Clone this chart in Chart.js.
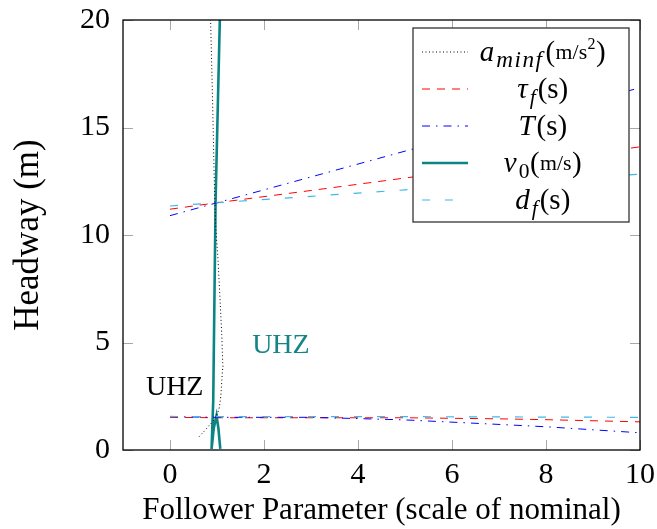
<!DOCTYPE html>
<html>
<head>
<meta charset="utf-8">
<script src="https://cdn.jsdelivr.net/npm/chart.js@4/dist/chart.umd.min.js"></script>
<style>
  html, body { margin: 0; padding: 0; background: #fff; }
  canvas { display: block; }
</style>
</head>
<body>
<canvas id="c" width="657" height="529"></canvas>
<script>
// Tick positions on both axes
const xTickValues = [0, 2, 4, 6, 8, 10];
const yTickValues = [0, 5, 10, 15, 20];

// Minimum follower deceleration sweep: parameter scale vs. headway
const aminfScale   = [0.62, 0.81, 0.99, 1.05, 1.08, 1.13, 1.10, 1.03, 0.955, 0.906, 0.864];
const aminfHeadway = [0.62, 1.08, 1.62, 2.0, 2.5, 3.87, 5.4, 8.5, 11.5, 16.2, 20];

// Desired speed sweep
const v0Scale   = [1.06, 0.97, 0.92, 0.885, 0.93, 0.99, 1.03, 1.07];
const v0Headway = [20, 11.6, 2.3, 0.05, 1.0, 1.6, 1.0, 0.05];

// Reaction time, time gap and follower delay sweeps (upper and lower branches)
const sweepScale = [0, 1, 3, 5, 7, 8, 10];
const tauUpper = [11.2, 11.5, 12.07, 12.65, 13.23, 13.52, 14.1];
const tauLower = [1.52, 1.5, 1.5, 1.5, 1.45, 1.41, 1.31];
const TUpper   = [10.9, 11.5, 12.7, 13.9, 15.1, 15.67, 16.85];
const TLower   = [1.55, 1.52, 1.52, 1.40, 1.19, 1.08, 0.80];
const dfUpper  = [11.35, 11.5, 11.8, 12.1, 12.4, 12.55, 12.83];
const dfLower  = [1.56, 1.55, 1.55, 1.55, 1.54, 1.53, 1.52];

// Annotation labels placed in data coordinates (baseline centre)
const zoneLabels = [
  { text: 'UHZ', x: 0.1,  y: 2.55, color: '#000000' },
  { text: 'UHZ', x: 2.36, y: 4.5,  color: '#138585' }
];

const FONT = '"Liberation Serif", "DejaVu Serif", serif';

const pts = (xs, ys) => xs.map((v, i) => ({ x: v, y: ys[i] }));

const styles = {
  aminf: { borderColor: '#000000', borderWidth: 1, borderDash: [1, 2.5] },
  tau:   { borderColor: '#ff0000', borderWidth: 1, borderDash: [8, 7] },
  T:     { borderColor: '#0000ff', borderWidth: 1, borderDash: [8, 6, 1.5, 6] },
  v0:    { borderColor: '#0b8484', borderWidth: 2.6, borderDash: [] },
  df:    { borderColor: '#3fb8e6', borderWidth: 1.2, borderDash: [8, 15] }
};

const mk = (data, st) => Object.assign({
  data, showLine: true, pointRadius: 0, fill: false, tension: 0
}, st);

const datasets = [
  mk(pts(sweepScale, dfUpper), styles.df),
  mk(pts(sweepScale, dfLower), styles.df),
  mk(pts(sweepScale, TUpper), styles.T),
  mk(pts(sweepScale, TLower), styles.T),
  mk(pts(sweepScale, tauUpper), styles.tau),
  mk(pts(sweepScale, tauLower), styles.tau),
  mk(pts(aminfScale, aminfHeadway), Object.assign({ cubicInterpolationMode: 'monotone' }, styles.aminf)),
  mk(pts(v0Scale, v0Headway), styles.v0)
];

// Legend rows: line style key and rich label segments
const legendRows = [
  { style: 'aminf', parts: [
    { t: 'a', it: true }, { t: 'minf', it: true, sub: true, scale: 0.8, spacing: 1.5 },
    { t: '(' }, { t: 'm/s', small: true }, { t: '2', sup: true }, { t: ')' } ] },
  { style: 'tau', parts: [ { t: 'τ', it: true }, { t: 'f', it: true, sub: true }, { t: '(s)' } ] },
  { style: 'T', parts: [ { t: 'T', it: true }, { t: '(s)' } ] },
  { style: 'v0', parts: [
    { t: 'v', it: true }, { t: '0', sub: true }, { t: '(' }, { t: 'm/s', small: true }, { t: ')' } ] },
  { style: 'df', parts: [ { t: 'd', it: true }, { t: 'f', it: true, sub: true }, { t: '(s)' } ] }
];

function partFont(p, size) {
  let s = size;
  if (p.sub) s = size * (p.scale || 0.74);
  if (p.sup) s = size * 0.55;
  if (p.small) s = size * 0.75;
  return (p.it ? 'italic ' : '') + s.toFixed(1) + 'px ' + FONT;
}
function partDy(p, size) {
  if (p.sub) return size * 0.2;
  if (p.sup) return -size * 0.42;
  if (p.small) return -size * 0.08;
  return 0;
}
function partGap(p) {
  if (p.it) return 2;
  return 0.5;
}
function partWidth(ctx, p) {
  return ctx.measureText(p.t).width + (p.spacing || 0) * p.t.length;
}

const framePlugin = {
  id: 'frame',
  afterDatasetsDraw(chart) {
    const { ctx, chartArea: a, scales: { x, y } } = chart;
    ctx.save();

    // inward tick marks on all four sides
    const L = 10;
    ctx.strokeStyle = '#a8a8a8';
    ctx.lineWidth = 1;
    ctx.beginPath();
    xTickValues.forEach(v => {
      const px = Math.round(x.getPixelForValue(v)) + 0.5;
      ctx.moveTo(px, a.bottom); ctx.lineTo(px, a.bottom - L);
      ctx.moveTo(px, a.top); ctx.lineTo(px, a.top + L);
    });
    yTickValues.forEach(v => {
      const py = Math.round(y.getPixelForValue(v)) + 0.5;
      ctx.moveTo(a.left, py); ctx.lineTo(a.left + L, py);
      ctx.moveTo(a.right, py); ctx.lineTo(a.right - L, py);
    });
    ctx.stroke();

    // axis box
    ctx.strokeStyle = '#000';
    ctx.lineWidth = 1.3;
    ctx.strokeRect(a.left, a.top, a.right - a.left, a.bottom - a.top);

    // zone labels
    ctx.font = '28px ' + FONT;
    ctx.textAlign = 'center';
    ctx.textBaseline = 'alphabetic';
    zoneLabels.forEach(z => {
      ctx.fillStyle = z.color;
      ctx.fillText(z.text, x.getPixelForValue(z.x), y.getPixelForValue(z.y));
    });

    // legend box
    const bw = 216, bh = 194;
    const bx = a.right - 11 - bw, by = a.top + 8;
    ctx.fillStyle = '#fff';
    ctx.fillRect(bx, by, bw, bh);
    ctx.strokeStyle = '#333';
    ctx.lineWidth = 1.3;
    ctx.strokeRect(bx, by, bw, bh);

    const size = 29;
    legendRows.forEach((row, i) => {
      const cy = by + 24 + i * 37;
      const st = styles[row.style];
      ctx.beginPath();
      ctx.setLineDash(st.borderDash);
      ctx.strokeStyle = st.borderColor;
      ctx.lineWidth = st.borderWidth;
      ctx.moveTo(bx + 9, cy); ctx.lineTo(bx + 55, cy);
      ctx.stroke();
      ctx.setLineDash([]);

      // measure label then draw centred
      let w = 0;
      row.parts.forEach(p => { ctx.font = partFont(p, size); w += partWidth(ctx, p) + partGap(p); });
      let tx = bx + 130 - w / 2;
      ctx.fillStyle = '#000';
      ctx.textAlign = 'left';
      row.parts.forEach(p => {
        ctx.font = partFont(p, size);
        if (p.spacing) {
          // spread wide subscripts glyph by glyph
          let gx = tx;
          for (const ch of p.t) {
            ctx.fillText(ch, gx, cy + 9 + partDy(p, size));
            gx += ctx.measureText(ch).width + p.spacing;
          }
        } else {
          ctx.fillText(p.t, tx, cy + 9 + partDy(p, size));
        }
        tx += partWidth(ctx, p) + partGap(p);
      });
    });

    ctx.restore();
  }
};

new Chart(document.getElementById('c'), {
  type: 'scatter',
  data: { datasets },
  options: {
    responsive: false,
    animation: false,
    devicePixelRatio: 1,
    layout: { padding: { left: 0, right: 17, top: 20, bottom: 0 } },
    plugins: { legend: { display: false }, tooltip: { enabled: false } },
    scales: {
      x: {
        type: 'linear', min: -1, max: 10,
        afterBuildTicks: s => { s.ticks = xTickValues.map(v => ({ value: v })); },
        afterFit: s => { s.height = 79; s.paddingLeft = 0; s.paddingRight = 0; },
        grid: { display: false, drawTicks: false },
        border: { display: false },
        ticks: { padding: 7, color: '#000', font: { family: FONT, size: 30 } },
        title: { display: true, text: 'Follower Parameter (scale of nominal)', color: '#000',
                 font: { family: FONT, size: 31, lineHeight: 1.2 }, padding: { top: 0, bottom: 0 } }
      },
      y: {
        type: 'linear', min: 0, max: 20,
        afterBuildTicks: s => { s.ticks = yTickValues.map(v => ({ value: v })); },
        afterFit: s => { s.width = 123; s.paddingTop = 0; s.paddingBottom = 0; },
        grid: { display: false, drawTicks: false },
        border: { display: false },
        ticks: { padding: 13, color: '#000', font: { family: FONT, size: 30 } },
        title: { display: true, text: 'Headway (m)', color: '#000',
                 font: { family: FONT, size: 35, lineHeight: 1.2 }, padding: { top: 8, bottom: 0 } }
      }
    }
  },
  plugins: [framePlugin]
});
</script>
</body>
</html>
